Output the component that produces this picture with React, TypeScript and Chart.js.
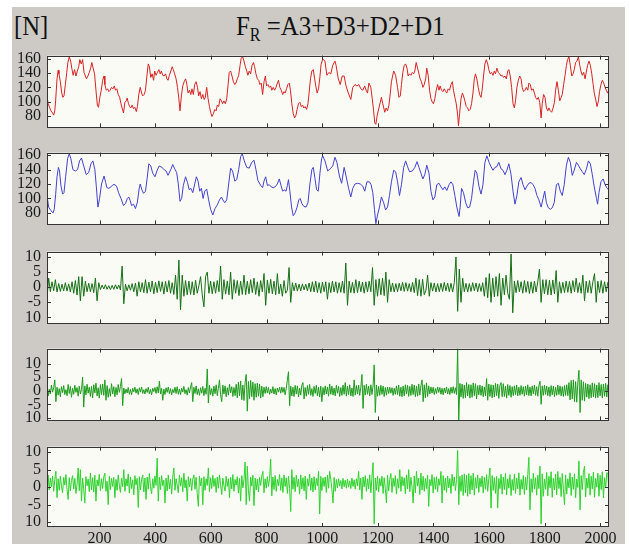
import React, { useEffect, useRef } from "react";
import { Chart, registerables } from "chart.js";

Chart.register(...registerables);

// ---------------- data ----------------
const X_MIN = 11;
const X_MAX = 2031;
const X_TICKS = [200, 400, 600, 800, 1000, 1200, 1400, 1600, 1800, 2000];
const X_TICK_LABELS = ["200", "400", "600", "800", "1000", "1200", "1400", "1600", "1800", "2000"];

const FORCE_TICKS = [80, 100, 120, 140, 160];
const FORCE_TICK_LABELS = ["80", "100", "120", "140", "160"];
const DETAIL_TICKS = [-10, -5, 0, 5, 10];
const DETAIL_TICK_LABELS = ["10", "-5", "0", "5", "10"];

// F_R (total signal): sample index / value
const FR_X = [11,15,21,25,31,35,39,42,47,51,54,59,64,68,72,77,82,86,91,96,101,105,110,115,120,125,129,134,139,144,149,153,158,163,168,172,177,182,187,192,196,201,206,211,216,219,224,229,233,238,243,248,253,257,262,267,272,277,281,286,291,296,299,304,308,312,317,322,327,332,336,341,346,351,355,360,365,370,375,379,384,389,394,398,403,408,413,418,422,427,432,437,442,446,451,456,461,465,470,475,480,485,489,494,499,504,509,513,518,523,528,532,537,542,547,552,556,561,566,571,576,580,585,590,595,599,604,609,614,619,623,628,633,638,642,647,652,657,662,666,671,676,681,686,690,695,700,705,709,714,719,724,729,733,738,743,748,753,757,762,767,772,776,781,786,791,796,800,805,810,815,819,824,829,834,839,843,848,853,858,863,867,872,877,882,886,891,896,901,906,910,915,920,925,930,934,939,944,949,953,958,963,968,973,977,982,987,992,
996,1002,1010,1017,1024,1031,1038,1046,1050,1058,1065,1072,1079,1086,1094,1103,1110,1118,1125,1132,1139,1146,1153,1158,1163,1168,1175,1180,1185,1189,1193,1198,1204,1209,1213,1218,1225,1230,1235,1240,1245,1249,1257,1264,1271,1276,1281,1285,1290,1295,1300,1305,1309,1314,1319,1324,1329,1333,1338,1343,1348,1352,1357,1362,1367,1372,1376,1381,1386,1391,1396,1400,1405,1410,1415,1420,1424,1429,1434,1439,1444,1448,1453,1458,1463,1468,1472,1477,1482,1487,1490,1494,1499,1504,1508,1513,1518,1523,1527,1532,1537,1542,1547,1551,1556,1561,1566,1571,1575,1580,1585,1590,1595,1599,1604,1609,1614,1619,1623,1628,1633,1638,1643,1647,1652,1657,1662,1667,1671,1676,1681,1686,1691,1695,1700,1705,1710,1715,1719,1724,1729,1734,1739,1743,1748,1753,1758,1763,1767,1772,1777,1782,1787,1791,1796,1801,1806,1811,1815,1820,1825,1830,1835,1839,1844,1849,1854,1859,1863,1868,1873,1878,1882,1887,1892,1897,1902,1906,1911,1916,1921,1926,1930,1935,1940,1945,1950,1954,1959,1964,1969,1974,1978,1983,1988,1993,1997,2002,2007,2012,2017,2021,2026,2030];
const FR_Y = [108,97,91,87,84,81,87,101,132,144, 139,128,112,106,108,124,141,155,163,157, 145,137,145,136,143,149,159,153,159,141, 136,132,136,141,147,155,147,139,116,95, 92,106,116,130,136,124,116,118,114,116, 120,118,122,116,118,110,106,97,91,84, 99,101,105,97,93,91,95,90,92,86, 93,110,120,112,108,110,116,136,153,149, 134,139,130,143,137,141,145,139,143,137, 136,139,132,130,137,143,149,145,139,132, 120,104,87,108,122,128,132,126,112,116, 110,118,110,124,128,120,108,114,104,110, 103,106,120,104,93,85,79,83,89,87, 95,93,104,101,97,101,97,104,124,141, 143,136,128,124,126,132,137,151,161,163, 157,149,143,137,143,139,151,155,149,139, 132,130,124,126,110,128,136,122,124,120, 122,116,120,116,120,126,130,120,116,110, 114,112,118,124,126,116,97,83,77,81, 89,97,99,93,95,91,93,89,97,112, 132,143,145,132,122,112,118,135,
152,160,157,137,141,139,151,157,151,132, 124,136,136,122,112,103,120,124,122,124, 118,116,122,116,112,126,120,104,87,70, 68,81,91,99,106,97,85,91,87,95, 112,128,143,137,120,106,108,124,141,151, 153,147,136,139,137,141,139,143,155,147, 139,132,128,120,124,132,147,137,116,104, 99,97,104,116,124,116,122,116,114,118, 114,112,118,116,124,128,116,106,97,81, 66,83,104,112,108,101,93,91,87,89, 97,112,132,139,132,120,110,106,116,136, 153,159,153,145,139,141,137,143,139,147, 141,139,136,137,134,136,132,143,145,136, 120,97,91,101,120,130,136,132,120,114, 116,120,116,126,124,116,118,112,106,103, 106,99,77,97,110,106,91,87,91,87, 85,91,99,116,128,116,101,106,110,124, 137,151,159,163,151,136,139,145,155,157, 163,151,143,137,141,132,143,151,157,151, 139,124,112,103,93,101,114,124,130,126, 120,116,112,116];

// A3 (approximation): sample index / value
const A3_X = [11,17,25,33,37,42,47,52,56,61,67,72,78,85,91,97,104,113,121,128,135,143,152,161,169,176,183,188,194,200,207,216,222,226,233,241,248,256,262,268,277,286,293,300,305,310,315,322,329,336,342,346,352,358,365,371,377,384,391,399,406,414,424,432,439,446,456,463,470,477,483,489,495,501,509,516,522,528,535,542,548,554,560,566,572,578,585,592,599,607,615,623,631,638,643,650,657,664,671,678,686,693,700,707,713,720,729,738,747,755,762,769,779,786,791,797,803,810,817,824,831,839,846,852,858,863,870,875,879,884,890,896,903,910,916,921,927,934,942,949,956,963,968,974,980,986,992,998,1002,1010,1020,1029,1038,1046,1053,1062,1070,1079,1086,1095,1103,1110,1118,1128,1137,1146,1153,1161,1170,1176,1182,1188,1193,1199,1206,1213,1221,1228,1235,1242,1249,1257,1264,1271,1278,1285,1293,1300,1307,1314,1324,1333,1341,1348,1355,1362,1369,1376,1384,1391,1398,1405,1412,1420,1427,1434,1441,1448,1456,1463,1470,1477,1484,1492,1496,1501,1508,1516,1523,1530,1537,1544,1550,1556,1564,1571,1578,1585,1592,1600,1607,1614,1621,1628,1635,1643,1650,1657,1664,1671,1679,1686,1693,1700,1707,1715,1722,1729,1736,1743,1751,1758,1765,1772,1779,1787,1794,1800,1806,1813,1820,1827,1834,1842,1849,1856,1863,1870,1878,1885,1892,1899,1906,1914,1921,1928,1935,1942,1950,1957,1964,1971,1978,1986,1990,1995,2002,2010,2017,2024,2030];
const A3_Y = [104,88,83,80,85,105,130,143,138,118, 106,108,130,155,162,155,140,138,140,152, 156,145,133,136,148,152,140,118,88,100, 120,131,122,115,114,116,119,119,116,108, 100,90,93,100,102,97,90,92,86,95, 113,120,112,107,110,128,148,145,135,130, 138,145,143,140,138,132,140,147,141,136, 120,96,100,118,130,122,112,114,108,120, 130,124,110,114,100,110,113,98,85,77, 86,91,98,102,98,94,98,120,142,138, 124,126,140,158,162,152,143,142,150,153, 140,125,118,115,124,130,118,119,116,115, 116,120,127,118,110,112,110,118,126,110, 88,76,80,88,98,100,93,89,88,94, 120,140,143,128,112,110,135,155,159,152, 138,141,145,157,150,131,121,143,131,114, 102,114,120,121,120,117,110,123,123,119, 108,85,65,77,88,102,94,84,88,104, 123,139,137,123,104,119,143,152,144,137, 138,143,151,143,135,127,133,146,135,110, 98,102,119,121,116,112,116,111,119,123, 119,104,88,75,88,114,108,94,87,88, 100,123,139,135,116,106,119,150,159,150, 144,139,143,144,150,141,139,133,139,148, 133,110,92,104,123,129,119,112,117,121, 122,119,114,104,98,88,100,110,94,87, 85,87,94,119,121,110,104,119,146,157, 150,132,139,150,146,141,137,133,141,152, 148,133,116,100,92,108,123,127,119,114, 112];

// D3: one value every D3_DX samples from D3_X0
const D3_X0 = 11;
const D3_DX = 6;
const D3 = [-3.5,3,-1.5,1.8,-1.2,2.5,-1.6,1.2,-1.4,1, -1.2,1.5,-1.3,1.1,-1.6,1.8,-2,2.2,-2.6,3.5, -4.5,3.5,-3,2,-1.5,1.3,-1.5,1.2,-1.8,3, -4.5,1.5,-0.8,0.7,-0.6,0.8,-0.7,0.5,-0.8,0.6, -0.7,0.8,-0.6,0.7,-0.9,7,-5.5,1,-1.2,0.8, -1,1.2,-1.5,1.4,-3,1.8,-1.6,1.5,-1.8,2.5, -2,1.7,-1.5,2,-2.2,1.6,-1.8,2.1,-1.4,1.8, -2.3,1.9,-1.6,2.2,-2,1.5,-2.4,4,-4,9, -7.5,4,-3,2.2,-2.5,2,-2.4,1.8,-2.6,2.3, -2,0.5,3.5,-2.5,-6.5,3.5,5,-2,2,-2.2, 1.8,-2,2.2,-1.5,7,-4,2.5,-2.3,2,-2.5, 5,-4,2.5,-2,2.2,-2.8,2,-2.4,4,-2.5, 2,-2.2,2.5,-1.8,3,-2.4,1.8,-3,2.2,-1.5, 4.5,-6,2.4,-2,2.6,-2.2,2,-2.5,4.5,-2.2, 1,-3,2.2,-2,-1,6.5,-5,1.5,-1.2,1.4, -1.3,1,-1.2,1.1,-0.9,1,-1.2,1.4,-1.5,1.8, -1.6,2,-1.8,1.5,-2,1.7,-1.5,1.8,-4,1.5, -1.8,2,-1.6,1.8,-2,1.5,-1.7,2,-2,8, -6,2,-1.8,1.6,-2,2.5,-1.8,2,-1.5,1.7, -2,1.8,-1.6,2,-1.5,6.5,-6,2.5,-3,2.8, -2.5,3,-2.8,5,-5,2.5,-1.5,1.4,-1.6,1.2, -1.5,1.3,-1.2,1.6,-1.4,1.5,-1.3,1.2,-1.5,1.6, -1.8,3,-2.8,2.5,-3,2.6,-2.5,-1,4,-3, 1.5,-1.3,1.4,-1.6,1.2,-1.5,1.3,-1.4,1.6,-1.2, 1.4,-1.5,1.3,-1.6,1.5,10,-8,6,-5,3, -1.5,1.3,-1.6,1.2,-1.4,1.5,-1.2,1.4,-1.5,1.2, -1.4,1.5,-3,3.2,-3.5,4.5,-5,3,-3.2,3.5, -3,4.5,-6,3,-2.5,4,-2,-4,11,-8.5, 2,-1.8,2.2,-1.5,1.8,-2,2.2,-1.7,1.9,-2.1, 1.8,-2,2,-1.6,1.8,6,-5,2.5,-2.2,2.5, -2.5,2.3,-2.6,2.4,-2.2,5.5,-5,1.8,-2,1.6, -1.8,2,-1.7,1.9,-2,2.2,-1.5,3,-1.8,1.5, -2,4,-4.5,2,-1.8,2.2,-2,1.8,4.5,-5, 2,-1.8,2.2,-2,1.8,-1.5,1.7];

// D2 and D1: one value every D21_DX samples from D21_X0
const D21_X0 = 11;
const D21_DX = 4;
const D2 = [1.4,-1.9,0.6,-1.2,2.1,-0.5,1.1,4,-4,1.3, -1.6,0.8,-2.2,1.5,-0.7,1.9,-1.4,0.4,-1.8,2.3, -1,1.6,-2.4,0.9,-1.3,2,-0.6,1.2,-2,1.7, -1.2,0.5,5,-6,1.8,-1.5,2.4,-0.9,1.3,-2.1, 1.6,-2.6,2.2,-0.8,2.8,-1.9,1.1,-2.7,2.3,-1.4, 2.5,-1.7,4,-3.5,1.9,-2.4,0.8,-2,2.6,-1.2, 1.5,-2.2,1.2,-1.5,2.3,-0.6,1.6,4.5,-5.5,1, -1.1,0.6,-0.8,1.2,-1.3,0.5,-1.5,0.9,-0.4,1.3, -0.9,0.7,-1.4,1.1,-0.5,1.4,-1,0.4,-1.2,0.8, -0.6,1.3,-1.1,0.5,-1.5,0.9,-0.3,1.2,-1,1.5,
-0.8,3.5,-1.2,0.9,-3.5,0.6,-1.4,1.1,-0.6,1.4, -1.1,0.8,-1.5,0.5,-0.7,1.3,-1,1.5,-1.3,0.6, -1.4,0.9,-0.5,1.6,-1.1,0.4,-1.6,1.2,-0.8,1.4, 3,-4,1.3,-1,1.8,-1.4,0.7,-1.7,1.1,-0.9, 1.6,-1.8,0.9,-1.3,8,-4.5,2,-1.4,0.8,-2, 1.7,-1.1,2.2,-1.8,0.9,4,-1.5,-4,2.1,-1.2, 1.8,-2.2,1.1,-1.6,2.4,-0.8,1.5,-2.1,1.2,-1.8, 2.4,-2.6,3.2,-1.9,3.6,-3.3,2.1,-3.6,2.9,6, -7.5,3.4,-2.9,3.8,-2.2,3.2,-3.5,2.6,-2.4,2.8, -2,2.5,-2.7,1.7,-2.2,1.3,-1,1.5,-0.8,1.2,
-1.3,0.6,-0.9,1.5,-1.2,0.8,-1.5,1,-0.5,1.3, -0.9,1.4,-0.6,1.2,-1.5,0.9,4,7,-5.5,1.7, -1.9,1.3,-2.1,2,-1.2,1.8,-2.3,1,-1.6,2.1, 3,-3,1.2,-2,1.9,-1.3,2.3,-1.7,0.8,-2.1, 1.6,-1,2,-1.9,1.3,-2.3,1.7,-4,1.2,-1.5, 1.8,-1.2,1.4,-2,2.5,-1.3,1.7,-1.6,1,-1.9, 2,-0.9,1.6,-2.1,1.2,-1.7,2.1,-1.3,3,-2, 1.7,-1.4,2.2,-1.9,1,-2.1,4,-1.6,1.9,-1.2, 2.1,-1.7,1.3,6,-6.5,2,-1.6,2.4,-1.3,1.7, -1.9,2.2,-1.4,1.8,9.5,-8,2.1,-2,1.6,-1.7,
2,-1.3,1.7,-2.1,1.2,-1.6,1.4,-1,1.3,-0.9, 1.1,-1.7,0.9,-1.3,1.8,-1.4,2.1,-2,1.3,-2.2, 1.7,-1.9,2.2,-1.2,2,-2.1,1.6,-1.7,2.4,-1.4, 2.1,-2.2,1.7,-2,2.5,-1.6,1.8,4,-4,2.2, -2.6,2.9,-2.1,1.8,-1.2,1.4,-0.9,1.3,-1.4,0.8, -1,1.4,-0.6,1.2,-1.3,0.9,-1.5,1,-0.8,1.4, -1.2,0.8,-1.4,1.3,-0.9,1.5,-1,1.1,-1.4,15.5, -10.9,2.7,-2.2,2.5,-2.8,2.1,-2.6,3,-1.9,2.3, -2.7,2.2,-2.4,2.9,-1.8,2.6,-3,1.9,-1.5,2.1, -1.7,1.8,-2.2,1.4,-1.9,4.5,-3.5,2.5,-2.1,2.2,
-2.6,2.1,-2.3,2.7,-1.8,2.5,-2.8,1.9,3,-2.2, 2.6,-2.1,1.7,-2.7,2.3,-1.7,1.9,-2.4,1.5,-1.8, 1.8,-1.4,2.1,-1.9,1.3,-1.7,1.9,-1.3,1.5,-2, 1.7,-1.5,2.2,-1.8,1.4,-1.9,1.8,-1.1,2.1,-1.7, 1.5,-2,1.9,3.5,-5,1.8,-1.7,2.1,-1.3,1.7, -1.8,1.4,-2.1,1.9,-1.5,1.7,-2.2,1.3,-1.7,2.1, -1.4,1.8,-1.9,1.5,-2.1,1.9,-1.7,2.2,-1.8,3, -3.4,3.8,-3,4,-4,3.4,-4.2,2.9,7.5,-8, 4,-3.5,3.3,-3.8,2.7,-2.3,2.5,-2.9,2.2,-2.6, 2.9,-2.2,2.6,-2.7,2.1,-2.5,3,-1.9,2.3,-2.7,
2.5,-2,2.7,-2.3,2.2,-1.7];
const D1 = [-2.6,3.5,-0.8,2.6,0.1,3.2,-1.2,2.2,4.5,-3, 2.4,-0.9,3.1,0.3,-1.6,2.8,0.6,3.6,-0.7,-3.5, 2.7,-1.1,1.9,3.3,-0.5,2.5,-1.8,0.8,5.5,-1, 5,-4,2.6,-0.6,-4.5,3,0.4,2.3,-1.3,4, -0.8,2.7,-1.4,3.4,-4,2.1,0.3,3.7,-1,2.4, -0.4,2.9,4,-1.2,1.7,-5,3.1,-0.7,2.5,0.2, 2.8,-3,2.2,-0.9,3.5,0.5,-1.5,2.6,0.1,5, -1.2,2.4,0.3,3.8,-1.7,2.9,-0.4,2.1,-2.2,3.3, 0.6,2.5,-5.8,3,-0.8,2.2,3.5,-1.4,2.6,-3.5, 2.9,-0.6,3.9,0.2,-1.9,2.4,-0.3,3.2,0.5,8.3,
-4,2.8,-0.7,3.3,0.4,2,-4.5,2.6,-1.1,3.5, -0.5,2.2,-2,2.9,5.5,-0.9,2.4,0.6,-1.6,3.5, 0.3,2.7,-1.3,4,-0.2,2.1,-4,3,0.1,2.5, -1,2.3,3.5,-0.6,2.8,-1.9,-5.5,3.2,0.4,2.6, -5,3,-0.9,2.4,0.5,5.5,-1.3,2.7,-0.4,3.4, 0.2,2.5,-1.5,2.9,-0.3,3.5,0.7,-2.1,2.6,0.4, -1.1,3.1,0.2,2.4,-3,2.8,-0.5,3.6,-1.2,2.2, 0.6,3,-1.7,2.5,-4,3.3,-0.2,2.1,7.2,-5, 6,-1,-4,2.9,0.3,3.4,-5.3,2.6,-0.8,2.3, -1.4,2.8,0.5,3.2,4.5,-1.6,2.4,-0.3,3,0.2,
2.5,8,-2.5,2.9,-0.7,3.3,-1.2,2.2,0.4,3.6, -0.9,2.6,-1.5,3.5,0.2,2.7,-1.8,3.1,-0.4,-7, 5,-0.6,2.8,-1.3,3.4,0.1,2.3,-2,3.5,-0.5, 2.7,-1.1,3.2,-3.5,2.4,0.3,3.7,-0.9,2.6,-1.4, 3,-0.8,2.5,0.4,4.5,-7.7,3.1,-1,2.7,0.2, 2.9,-1.5,3.4,-0.3,4.5,2.2,-0.6,-4.5,2.8,-1.2, 2.2,-0.2,2.4,0.3,1.9,-0.5,2.5,0.1,2,-0.3, 2.3,0,1.8,-0.4,2.6,0.2,2.1,-0.6,2.4,0.4, 4.5,-0.8,2.6,-3.5,2.9,0.1,3.3,-1.2,2.4,-0.5, 3.5,-1.6,2.8,7,-10.5,2.6,-0.9,3.2,-1.4,2.5,
0.3,3.1,-1.8,2.7,-0.4,-4.5,3.4,-1.1,2.2,3.9, -1.5,2.6,0.2,3.3,-2,2.4,-0.3,5,-1.2,3, 0.4,2.7,-1.9,3.5,-0.5,5,-1.3,2.8,0.1,-4.5, 3.2,-1.6,4.5,0.3,2.6,-2.1,4,-0.8,3.1,-1.2, 2.5,-0.4,3.4,-5.5,2.2,0.4,3.6,-1.7,2.8,-0.6, 3,-1.3,2.4,0.5,4.5,-4.5,3.3,-0.9,2.6,-1.5, 3.2,-0.2,2.5,-1.8,3.7,0.3,2.9,-1,2.2,10.5, -5,3.1,-1.2,3.5,-2.4,3.8,-1.6,3.4,-2.6,3.9, -2,3.3,-0.8,4,-2.3,2.7,-0.3,3.5,-1.5,2.6, 0.1,3.2,-1.7,2.8,-0.6,3.6,-1.2,2.4,5.5,-6,
3.3,-0.9,2.7,-1.8,3.1,-6,2.5,-0.4,3.7,-2, 2.9,-0.7,3.9,-2.2,2.4,-0.3,3.6,-2.4,2.2,-0.9, 3.7,-1.8,2.6,-0.5,4.1,-2.3,2.2,-0.6,3.3,-2.1, 2.8,-0.8,3.6,8.5,-6.5,2.4,-1.5,4,-0.5,2.7, -2.3,3.4,-0.4,6,-10.5,3.8,-2.6,2.3,-0.6,4.2, -2.5,3.1,-0.2,4.4,-2.9,2.5,-0.8,3.7,-2.2,4.5, -0.4,2.8,-2.7,3.9,-0.5,-5,3.5,-2,2.4,-0.2, 4.1,-2.4,2.9,-0.6,3.8,-3,2.3,-0.1,7.5,-6.5, 3.3,-0.7,4.2,6,-2.8,2.6,-0.3,3.9,-2.3,3.1, -0.5,4.3,-2.9,2.5,0,4,-2.6,3.4,-0.7,4.4,
-3.1,2.7,-0.2,4.1,4,-2.4];

// ---------------- styling / layout ----------------
const FONT = "'Liberation Serif', 'Times New Roman', serif";
const PAGE_BG = "#ffffff";
const FIG_BG = "#cdcac5";
const PLOT_BG = "#fbfbf5";
const AXIS_COLOR = "#333333";
const TEXT_COLOR = "#1a1a1a";
const PAD = 8;
const Y_AXIS_W = 47;
const RIGHT_PAD = 20;
const X_LABEL_H = 20;

const pairs = (xs: number[], ys: number[]) => xs.map((x, i) => ({ x, y: ys[i] }));
const regular = (x0: number, dx: number, ys: number[]) => ys.map((y, i) => ({ x: x0 + i * dx, y }));

type PanelDef = {
  top: number;
  bottom: number;
  yMin: number;
  yMax: number;
  ticks: number[];
  labels: string[];
  color: string;
  points: { x: number; y: number }[];
  showX: boolean;
};

const PANELS: PanelDef[] = [
  { top: 48, bottom: 135, yMin: 63.7, yMax: 164.7, ticks: FORCE_TICKS, labels: FORCE_TICK_LABELS, color: "rgb(214,36,36)", points: pairs(FR_X, FR_Y), showX: false },
  { top: 145, bottom: 232, yMin: 64, yMax: 163.5, ticks: FORCE_TICKS, labels: FORCE_TICK_LABELS, color: "rgb(66,66,208)", points: pairs(A3_X, A3_Y), showX: false },
  { top: 244, bottom: 331, yMin: -12, yMax: 11.8, ticks: DETAIL_TICKS, labels: DETAIL_TICK_LABELS, color: "rgb(22,112,22)", points: regular(D3_X0, D3_DX, D3), showX: false },
  { top: 341, bottom: 428, yMin: -10.9, yMax: 15.5, ticks: DETAIL_TICKS, labels: DETAIL_TICK_LABELS, color: "rgb(30,156,30)", points: regular(D21_X0, D21_DX, D2), showX: false },
  { top: 439, bottom: 527, yMin: -11.4, yMax: 11.6, ticks: DETAIL_TICKS, labels: DETAIL_TICK_LABELS, color: "rgb(46,210,46)", points: regular(D21_X0, D21_DX, D1), showX: true },
];

const framePlugin = {
  id: "frame",
  beforeDraw(chart: any) {
    const { ctx, chartArea: a } = chart;
    ctx.save();
    ctx.fillStyle = PLOT_BG;
    ctx.fillRect(a.left, a.top, a.right - a.left, a.bottom - a.top);
    ctx.restore();
  },
  afterDraw(chart: any) {
    const { ctx, chartArea: a, scales } = chart;
    const L = 4;
    ctx.save();
    ctx.strokeStyle = AXIS_COLOR;
    ctx.lineWidth = 1;
    ctx.beginPath();
    scales.x.ticks.forEach((t: any) => {
      const px = Math.round(scales.x.getPixelForValue(t.value)) + 0.5;
      ctx.moveTo(px, a.bottom);
      ctx.lineTo(px, a.bottom - L);
      ctx.moveTo(px, a.top);
      ctx.lineTo(px, a.top + L);
    });
    scales.y.ticks.forEach((t: any) => {
      const py = Math.round(scales.y.getPixelForValue(t.value)) + 0.5;
      ctx.moveTo(a.left, py);
      ctx.lineTo(a.left + L, py);
      ctx.moveTo(a.right, py);
      ctx.lineTo(a.right - L, py);
    });
    ctx.stroke();
    ctx.strokeRect(Math.round(a.left) + 0.5, Math.round(a.top) + 0.5, Math.round(a.right - a.left) - 1, Math.round(a.bottom - a.top) - 1);
    ctx.restore();
  },
};

function Panel({ p }: { p: PanelDef }) {
  const ref = useRef<HTMLCanvasElement>(null);
  const h = PAD + (p.bottom - p.top) + (p.showX ? X_LABEL_H : PAD);
  useEffect(() => {
    const chart = new Chart(ref.current as HTMLCanvasElement, {
      type: "line",
      data: {
        datasets: [
          {
            data: p.points,
            borderColor: p.color,
            borderWidth: 1,
            pointRadius: 0,
            tension: 0,
            fill: false,
          },
        ],
      },
      options: {
        animation: false,
        responsive: false,
        devicePixelRatio: 1,
        events: [],
        parsing: false,
        layout: { padding: { top: PAD, bottom: p.showX ? 0 : PAD, left: 0, right: RIGHT_PAD }, autoPadding: false } as any,
        plugins: { legend: { display: false }, tooltip: { enabled: false }, title: { display: false } },
        scales: {
          x: {
            type: "linear",
            min: X_MIN,
            max: X_MAX,
            afterBuildTicks: (s: any) => {
              s.ticks = X_TICKS.map((v) => ({ value: v }));
            },
            afterFit: (s: any) => {
              s.height = p.showX ? X_LABEL_H : 0;
            },
            grid: { display: false, drawTicks: false },
            border: { display: false },
            ticks: {
              display: p.showX,
              autoSkip: false,
              maxRotation: 0,
              padding: 2,
              color: TEXT_COLOR,
              font: { family: FONT, size: 16 },
              callback: (_v: any, i: number) => X_TICK_LABELS[i],
            },
          },
          y: {
            type: "linear",
            min: p.yMin,
            max: p.yMax,
            afterBuildTicks: (s: any) => {
              s.ticks = p.ticks.map((v) => ({ value: v }));
            },
            afterFit: (s: any) => {
              s.width = Y_AXIS_W;
            },
            grid: { display: false, drawTicks: false },
            border: { display: false },
            ticks: {
              autoSkip: false,
              padding: 6,
              color: TEXT_COLOR,
              font: { family: FONT, size: 16 },
              callback: (_v: any, i: number) => p.labels[i],
            },
          },
        },
      } as any,
      plugins: [framePlugin],
    });
    return () => chart.destroy();
  }, []);
  return (
    <canvas
      ref={ref}
      width={629}
      height={h}
      style={{ position: "absolute", left: 0, top: p.top - PAD, width: 629, height: h }}
    />
  );
}

export default function App() {
  return (
    <div style={{ position: "absolute", left: 0, top: 0, width: 629, height: 544, background: PAGE_BG, overflow: "hidden" }}>
      <div style={{ position: "absolute", left: 12, top: 7, width: 613, height: 537, background: FIG_BG }} />
      <div style={{ position: "absolute", left: 14, top: 12, fontFamily: FONT, fontSize: 28, lineHeight: "28px", color: "#111", whiteSpace: "nowrap", transform: "scaleX(0.88)", transformOrigin: "left top" }}>
        [N]
      </div>
      <div style={{ position: "absolute", left: 236, top: 12, fontFamily: FONT, fontSize: 28, lineHeight: "28px", color: "#111", whiteSpace: "nowrap", transform: "scaleX(0.89)", transformOrigin: "left top" }}>
        F<span style={{ fontSize: 18, position: "relative", top: 6 }}>R</span>
        <span> =A3+D3+D2+D1</span>
      </div>
      {PANELS.map((p, i) => (
        <Panel key={i} p={p} />
      ))}
    </div>
  );
}
